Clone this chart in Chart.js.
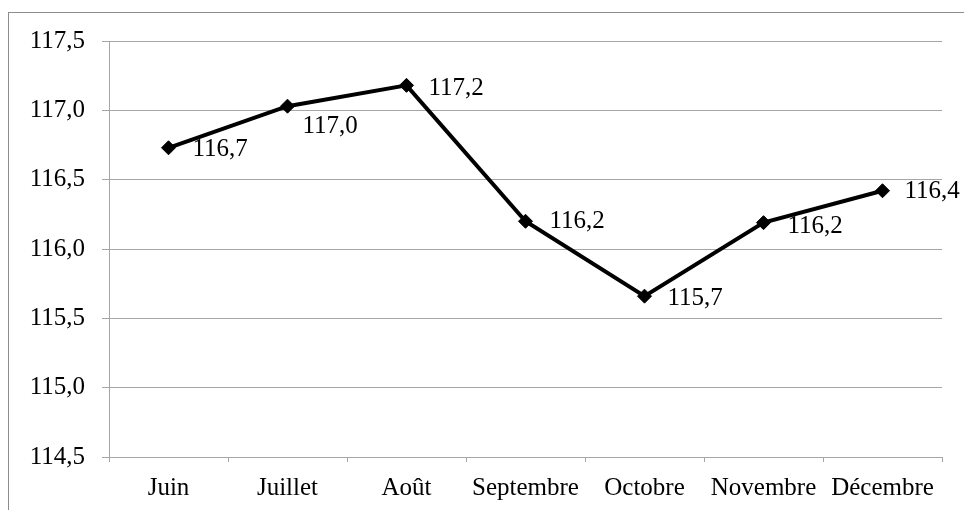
<!DOCTYPE html>
<html>
<head>
<meta charset="utf-8">
<script src="https://cdn.jsdelivr.net/npm/chart.js@4"></script>
<style>
  html, body { margin: 0; padding: 0; background: #fff; }
  canvas { display: block; }
</style>
</head>
<body>
<canvas id="c" width="964" height="510"></canvas>
<script>
const categories = ['Juin', 'Juillet', 'Août', 'Septembre', 'Octobre', 'Novembre', 'Décembre'];
const values = [116.73, 117.03, 117.18, 116.2, 115.66, 116.19, 116.42];
const valueLabels = ['116,7', '117,0', '117,2', '116,2', '115,7', '116,2', '116,4'];
const yMin = 114.5, yMax = 117.5, yStep = 0.5;

// label offsets relative to each point (layout only)
const labelOffsets = [[24, 2], [15, 20], [22, 3], [24, 0], [23, 2], [24, 4], [22, 1]];

const FONT = { family: '"Liberation Serif", "Times New Roman", serif', size: 25 };
const GRID = '#a6a6a6';

const frame = {
  id: 'frame',
  beforeDraw(chart) {
    const ctx = chart.ctx;
    ctx.save();
    ctx.fillStyle = '#fff';
    ctx.fillRect(0, 0, chart.width, chart.height);
    ctx.strokeStyle = '#8c8c8c';
    ctx.lineWidth = 1;
    ctx.strokeRect(8.5, 12.5, 2000, 2000);
    ctx.restore();
  }
};

const dataLabels = {
  id: 'dataLabels',
  afterDatasetsDraw(chart) {
    const ctx = chart.ctx;
    const meta = chart.getDatasetMeta(0);
    ctx.save();
    ctx.font = FONT.size + 'px ' + FONT.family;
    ctx.fillStyle = '#000';
    ctx.textAlign = 'left';
    ctx.textBaseline = 'middle';
    meta.data.forEach((pt, i) => {
      const o = labelOffsets[i];
      ctx.fillText(valueLabels[i], pt.x + o[0], pt.y + o[1]);
    });
    ctx.restore();
  }
};

new Chart(document.getElementById('c'), {
  type: 'line',
  data: {
    labels: categories,
    datasets: [{
      data: values,
      borderColor: '#000',
      backgroundColor: '#000',
      borderWidth: 4,
      tension: 0,
      pointStyle: 'rectRot',
      pointRadius: 7,
      pointBackgroundColor: '#000',
      pointBorderColor: '#000',
      pointBorderWidth: 1,
      fill: false
    }]
  },
  options: {
    responsive: false,
    animation: false,
    devicePixelRatio: 1,
    layout: { padding: { top: 41, right: 22, bottom: 0, left: 0 } },
    plugins: { legend: { display: false }, tooltip: { enabled: false } },
    scales: {
      x: {
        type: 'category',
        offset: true,
        grid: { drawOnChartArea: false, drawTicks: true, tickLength: 5, color: GRID, offset: true },
        border: { display: true, color: GRID, width: 1 },
        ticks: { font: FONT, color: '#000', padding: 11, maxRotation: 0, autoSkip: false },
        afterFit(scale) { scale.height = 53; }
      },
      y: {
        min: yMin,
        max: yMax,
        grid: { color: GRID, tickLength: 7, drawTicks: true },
        border: { display: true, color: GRID, width: 1 },
        ticks: {
          stepSize: yStep,
          font: FONT,
          color: '#000',
          padding: 17,
          callback: v => v.toFixed(1).replace('.', ',')
        },
        afterFit(scale) { scale.width = 109; }
      }
    }
  },
  plugins: [frame, dataLabels]
});
</script>
</body>
</html>
